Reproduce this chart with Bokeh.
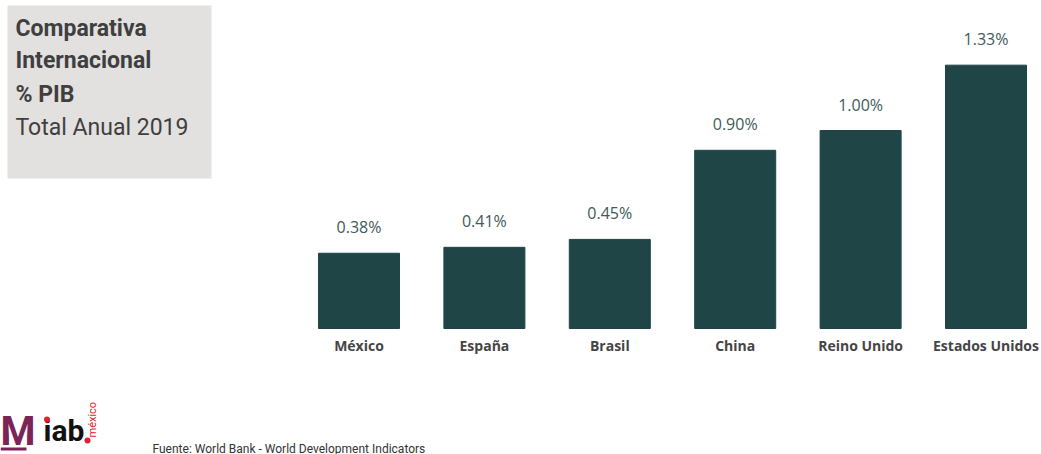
from bokeh.plotting import figure
from bokeh.models import Range1d, ColumnDataSource
from bokeh.core.properties import value
from bokeh.embed import file_html
from bokeh.resources import INLINE
import math

categories = ["México", "España", "Brasil", "China", "Reino Unido", "Estados Unidos"]
values = [0.38, 0.41, 0.45, 0.90, 1.00, 1.33]
value_labels = ["0.38%", "0.41%", "0.45%", "0.90%", "1.00%", "1.33%"]
title_lines = ["Comparativa", "Internacional", "% PIB"]
subtitle = "Total Anual 2019"
source_text = "Fuente: World Bank - World Development Indicators"

W, H = 1041, 454
PX_X = 125.4   # px per category
PX_Y = 198.0   # px per unit of value
X0 = 358.5     # px of first category centre
Y0 = 328.0     # px of baseline
xs = -X0 / PX_X
ys = -(H - Y0) / PX_Y

def dx(px):
    return xs + px / PX_X

def dy(py):
    return ys + (H - py) / PX_Y

p = figure(width=W, height=H, output_backend="svg", toolbar_location=None,
           x_range=Range1d(xs, xs + W / PX_X), y_range=Range1d(ys, ys + H / PX_Y),
           min_border=0, outline_line_color=None, background_fill_color="white",
           border_fill_color="white")
p.xaxis.visible = False
p.yaxis.visible = False
p.grid.visible = False

idx = list(range(len(categories)))
src = ColumnDataSource(dict(x=idx, top=values, cat=categories, lab=value_labels))

p.vbar(x="x", top="top", bottom=0, width=0.646, source=src,
       fill_color="#1f4547", line_color="#1f4547")
p.text(x="x", y="top", text="lab", source=src, y_offset=-26,
       text_align="center", text_baseline="middle", text_font=value("Open Sans"),
       text_font_size="16px", text_color="#3e5a5a")
p.text(x="x", y=0, text="cat", source=src, y_offset=17,
       text_align="center", text_baseline="middle", text_font=value("Open Sans"),
       text_font_size="14px", text_font_style="bold", text_color="#454545")

# title box
p.quad(left=dx(7), right=dx(211), top=dy(5), bottom=dy(178),
       fill_color="#e3e1df", line_color=None)
for i, t in enumerate(title_lines):
    p.text(x=dx(15), y=dy([28, 60, 94][i]), text=[t], text_align="left",
           text_baseline="middle", text_font=value("Roboto"), text_font_size="23px",
           text_font_style="bold", text_color="#3f3f3f")
p.text(x=dx(15), y=dy(127), text=[subtitle], text_align="left",
       text_baseline="middle", text_font=value("Roboto"), text_font_size="23px",
       text_color="#3f3f3f")

# source
p.text(x=dx(152), y=dy(448), text=[source_text], text_align="left",
       text_baseline="middle", text_font=value("Roboto"), text_font_size="12px",
       text_color="#333333")

# logos
p.text(x=dx(0), y=dy(431), text=["M"], text_align="left", text_baseline="middle",
       text_font=value("Roboto"), text_font_size="40px", text_font_style="bold",
       text_color="#7a2458")
p.quad(left=dx(0), right=dx(26), top=dy(447), bottom=dy(450),
       fill_color="#7a2458", line_color=None)
p.text(x=dx(43), y=dy(430), text=["iab"], text_align="left", text_baseline="middle",
       text_font=value("Roboto"), text_font_size="30px", text_font_style="bold",
       text_color="#111111")
p.scatter(x=[dx(46.5)], y=[dy(419)], size=6, fill_color="#e0202a", line_color=None)
p.scatter(x=[dx(87)], y=[dy(440)], size=6, fill_color="#e0202a", line_color=None)
p.text(x=dx(92), y=dy(437), text=["méxico"], angle=math.pi / 2, text_align="left",
       text_baseline="middle", text_font=value("Roboto"), text_font_size="11px",
       text_color="#e0202a")

open("out.html", "w").write(file_html(p, INLINE))
